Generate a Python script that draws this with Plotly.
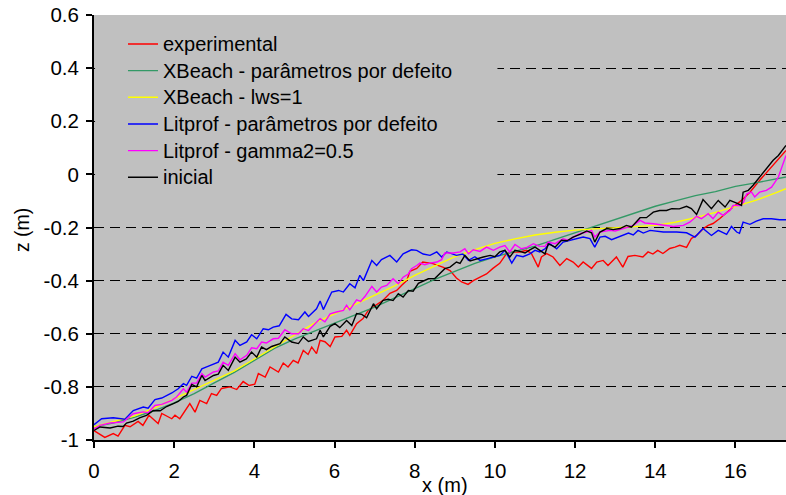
import plotly.graph_objects as go

# ---- profile data: x (m) along the flume, z (m) bed elevation ----
exp_x = [0, 0.27, 0.48, 0.6, 0.77, 0.9, 1.1, 1.22, 1.37, 1.6,
         1.69, 1.94, 2.02, 2.14, 2.39, 2.52, 2.64, 2.81, 2.93, 3.06,
         3.18, 3.39, 3.56, 3.72, 3.87, 4.01, 4.1, 4.27, 4.39, 4.6,
         4.72, 4.84, 4.97, 5.09, 5.22, 5.34, 5.43, 5.55, 5.64, 5.76,
         5.89, 6.01, 6.18, 6.3, 6.38, 6.55, 6.71, 6.84, 6.96, 7.21,
         7.38, 7.55, 7.67, 7.8, 7.88, 8.05, 8.2, 8.45, 8.7, 8.88,
         9.04, 9.17, 9.33, 9.46, 9.63, 9.79, 9.95, 10.12, 10.29, 10.45,
         10.62, 10.79, 10.91, 11.08, 11.16, 11.29, 11.45, 11.62, 11.79, 11.95,
         12.08, 12.2, 12.41, 12.54, 12.7, 12.82, 13.03, 13.19, 13.32, 13.49,
         13.69, 13.82, 13.94, 14.06, 14.19, 14.36, 14.49, 14.61, 14.78, 14.9,
         15.03, 15.2, 15.32, 15.44, 15.61, 15.78, 15.94, 16.15, 16.36, 16.6,
         16.86, 17.07, 17.26]
exp_z = [-0.965, -0.99, -0.976, -0.985, -0.945, -0.95, -0.93, -0.945, -0.907, -0.938,
         -0.9, -0.92, -0.907, -0.92, -0.863, -0.895, -0.851, -0.863, -0.825, -0.832,
         -0.806, -0.80, -0.81, -0.78, -0.795, -0.79, -0.75, -0.763, -0.725, -0.744,
         -0.71, -0.725, -0.70, -0.71, -0.663, -0.678, -0.65, -0.675, -0.625, -0.63,
         -0.648, -0.612, -0.61, -0.587, -0.606, -0.562, -0.543, -0.512, -0.50, -0.474,
         -0.448, -0.437, -0.418, -0.40, -0.365, -0.354, -0.33, -0.336, -0.349, -0.362,
         -0.39, -0.405, -0.414, -0.40, -0.387, -0.375, -0.354, -0.335, -0.298, -0.292,
         -0.292, -0.286, -0.298, -0.349, -0.311, -0.298, -0.311, -0.343, -0.317, -0.33,
         -0.349, -0.33, -0.354, -0.33, -0.324, -0.343, -0.311, -0.349, -0.309, -0.305,
         -0.311, -0.292, -0.30, -0.286, -0.298, -0.279, -0.274, -0.267, -0.275, -0.241,
         -0.23, -0.204, -0.192, -0.185, -0.166, -0.142, -0.123, -0.098, -0.067, -0.023,
         0.021, 0.059, 0.09]

smooth_x = [0, 0.5, 1, 1.5, 2, 2.5, 3, 3.5, 4, 4.5,
            5, 5.5, 6, 6.5, 7, 7.5, 8, 8.5, 9, 9.5,
            10, 10.5, 11, 11.5, 12, 12.5, 13, 13.5, 14, 14.5,
            15, 15.5, 16, 16.5, 17, 17.26]
xb_def_z = [-0.95, -0.935, -0.915, -0.89, -0.86, -0.825, -0.785, -0.745, -0.70, -0.655,
            -0.62, -0.59, -0.56, -0.53, -0.50, -0.465, -0.43, -0.395, -0.365, -0.335,
            -0.31, -0.29, -0.27, -0.245, -0.22, -0.195, -0.168, -0.145, -0.12, -0.10,
            -0.08, -0.065, -0.045, -0.032, -0.017, -0.01]
xb_lws_z = [-0.95, -0.93, -0.91, -0.88, -0.845, -0.81, -0.775, -0.74, -0.695, -0.65,
            -0.605, -0.56, -0.525, -0.49, -0.455, -0.42, -0.38, -0.345, -0.31, -0.283,
            -0.26, -0.243, -0.228, -0.218, -0.21, -0.205, -0.2, -0.197, -0.192, -0.18,
            -0.163, -0.143, -0.12, -0.098, -0.07, -0.054]

lp_def_x = [0, 0.19, 0.48, 0.77, 0.98, 1.23, 1.35, 1.52, 1.69, 1.94,
            2.1, 2.23, 2.31, 2.44, 2.56, 2.69, 2.81, 2.98, 3.1, 3.22,
            3.35, 3.52, 3.64, 3.81, 3.93, 4.06, 4.22, 4.35, 4.47, 4.62,
            4.79, 4.93, 5.1, 5.26, 5.35, 5.55, 5.64, 5.72, 5.93, 6.1,
            6.22, 6.38, 6.51, 6.63, 6.72, 6.93, 7.05, 7.17, 7.38, 7.55,
            7.71, 7.92, 8.05, 8.21, 8.38, 8.55, 8.67, 8.8, 9.04, 9.2,
            9.34, 9.5, 9.63, 9.79, 9.96, 10.12, 10.25, 10.42, 10.54, 10.7,
            10.87, 11.0, 11.12, 11.25, 11.37, 11.54, 11.7, 11.87, 12.04, 12.2,
            12.37, 12.49, 12.62, 12.75, 12.91, 13.12, 13.33, 13.45, 13.57, 13.7,
            13.87, 14.2, 14.53, 14.78, 14.99, 15.19, 15.4, 15.57, 15.78, 15.9,
            16.03, 16.1, 16.19, 16.36, 16.52, 16.69, 16.9, 17.1, 17.26]
lp_def_z = [-0.942, -0.92, -0.916, -0.922, -0.889, -0.876, -0.88, -0.848, -0.842, -0.823,
            -0.807, -0.788, -0.794, -0.76, -0.767, -0.732, -0.725, -0.713, -0.707, -0.669,
            -0.688, -0.625, -0.644, -0.631, -0.604, -0.619, -0.581, -0.585, -0.575, -0.57,
            -0.527, -0.544, -0.547, -0.518, -0.535, -0.506, -0.477, -0.509, -0.443, -0.437,
            -0.443, -0.412, -0.427, -0.38, -0.40, -0.324, -0.343, -0.321, -0.305, -0.33,
            -0.299, -0.284, -0.286, -0.30, -0.305, -0.292, -0.311, -0.292, -0.305, -0.30,
            -0.324, -0.31, -0.324, -0.318, -0.311, -0.305, -0.286, -0.334, -0.305, -0.31,
            -0.299, -0.286, -0.292, -0.28, -0.261, -0.28, -0.255, -0.248, -0.242, -0.236,
            -0.242, -0.274, -0.236, -0.233, -0.246, -0.233, -0.221, -0.228, -0.211, -0.221,
            -0.211, -0.217, -0.217, -0.22, -0.236, -0.204, -0.23, -0.211, -0.226, -0.196,
            -0.217, -0.222, -0.18, -0.188, -0.176, -0.167, -0.167, -0.171, -0.171]

lp_g2_x = [0, 0.15, 0.4, 0.73, 0.98, 1.23, 1.35, 1.52, 1.69, 1.94,
           2.06, 2.23, 2.31, 2.44, 2.56, 2.69, 2.77, 2.98, 3.1, 3.22,
           3.35, 3.52, 3.64, 3.81, 3.93, 4.06, 4.18, 4.3, 4.47, 4.6,
           4.76, 4.93, 5.1, 5.22, 5.35, 5.55, 5.64, 5.76, 5.89, 6.05,
           6.22, 6.3, 6.38, 6.55, 6.65, 6.76, 6.93, 7.05, 7.17, 7.3,
           7.46, 7.59, 7.71, 7.84, 7.92, 8.05, 8.13, 8.25, 8.38, 8.55,
           8.67, 8.75, 8.96, 9.13, 9.25, 9.34, 9.46, 9.63, 9.79, 9.96,
           10.12, 10.25, 10.37, 10.5, 10.66, 10.8, 10.96, 11.1, 11.25, 11.33,
           11.5, 11.7, 11.82, 11.95, 12.12, 12.29, 12.41, 12.49, 12.62, 12.87,
           13.0, 13.2, 13.45, 13.62, 13.74, 13.95, 14.2, 14.45, 14.7, 14.86,
           15.03, 15.15, 15.32, 15.44, 15.57, 15.69, 15.86, 15.94, 16.11, 16.2,
           16.28, 16.4, 16.48, 16.6, 16.77, 16.9, 17.07, 17.15, 17.26]
lp_g2_z = [-0.958, -0.945, -0.936, -0.932, -0.901, -0.894, -0.897, -0.87, -0.866, -0.851,
           -0.838, -0.807, -0.82, -0.786, -0.786, -0.75, -0.763, -0.744, -0.74, -0.707,
           -0.719, -0.675, -0.698, -0.681, -0.653, -0.656, -0.631, -0.635, -0.619, -0.617,
           -0.585, -0.60, -0.60, -0.581, -0.588, -0.556, -0.543, -0.555, -0.525, -0.518,
           -0.512, -0.493, -0.51, -0.472, -0.478, -0.459, -0.422, -0.443, -0.424, -0.418,
           -0.393, -0.412, -0.387, -0.375, -0.355, -0.343, -0.334, -0.34, -0.334, -0.33,
           -0.321, -0.296, -0.296, -0.292, -0.28, -0.299, -0.284, -0.29, -0.274, -0.286,
           -0.274, -0.268, -0.292, -0.264, -0.28, -0.275, -0.261, -0.27, -0.271, -0.255,
           -0.261, -0.242, -0.248, -0.236, -0.223, -0.217, -0.211, -0.236, -0.217, -0.211,
           -0.213, -0.204, -0.192, -0.173, -0.183, -0.186, -0.192, -0.196, -0.192, -0.18,
           -0.158, -0.167, -0.148, -0.167, -0.142, -0.154, -0.136, -0.117, -0.117, -0.105,
           -0.073, -0.067, -0.085, -0.067, -0.06, -0.048, -0.01, 0.021, 0.071]

ini_x = [0, 0.15, 0.4, 0.6, 0.73, 0.81, 0.98, 1.15, 1.31, 1.48,
         1.65, 1.81, 1.98, 2.1, 2.23, 2.31, 2.44, 2.56, 2.69, 2.77,
         2.98, 3.1, 3.22, 3.35, 3.52, 3.64, 3.8, 3.93, 4.06, 4.18,
         4.3, 4.43, 4.64, 4.76, 4.93, 5.1, 5.22, 5.35, 5.55, 5.64,
         5.72, 5.89, 6.01, 6.13, 6.3, 6.43, 6.55, 6.68, 6.8, 6.97,
         7.05, 7.21, 7.34, 7.46, 7.59, 7.71, 7.84, 7.96, 8.09, 8.22,
         8.34, 8.5, 8.63, 8.75, 8.88, 9.04, 9.13, 9.25, 9.38, 9.54,
         9.71, 9.88, 10.0, 10.12, 10.25, 10.37, 10.5, 10.62, 10.75, 10.87,
         11.0, 11.12, 11.25, 11.33, 11.5, 11.66, 11.8, 11.95, 12.12, 12.29,
         12.41, 12.49, 12.62, 12.79, 12.95, 13.12, 13.28, 13.41, 13.62, 13.78,
         13.95, 14.11, 14.28, 14.41, 14.6, 14.78, 14.9, 15.03, 15.19, 15.4,
         15.57, 15.74, 15.86, 16.03, 16.15, 16.19, 16.32, 16.44, 16.6, 16.77,
         16.94, 17.07, 17.2, 17.26]
ini_z = [-0.964, -0.951, -0.955, -0.948, -0.949, -0.936, -0.929, -0.916, -0.907, -0.889,
         -0.89, -0.874, -0.863, -0.855, -0.838, -0.832, -0.791, -0.80, -0.757, -0.776,
         -0.757, -0.752, -0.719, -0.738, -0.688, -0.707, -0.695, -0.669, -0.688, -0.65,
         -0.66, -0.648, -0.637, -0.612, -0.631, -0.637, -0.612, -0.629, -0.619, -0.587,
         -0.612, -0.572, -0.562, -0.577, -0.55, -0.569, -0.524, -0.527, -0.54, -0.487,
         -0.506, -0.474, -0.47, -0.475, -0.449, -0.462, -0.437, -0.44, -0.41, -0.40,
         -0.393, -0.392, -0.371, -0.355, -0.349, -0.33, -0.335, -0.305, -0.326, -0.318,
         -0.311, -0.305, -0.31, -0.292, -0.286, -0.311, -0.286, -0.29, -0.296, -0.284,
         -0.274, -0.286, -0.299, -0.261, -0.274, -0.248, -0.25, -0.236, -0.226, -0.213,
         -0.22, -0.255, -0.217, -0.204, -0.208, -0.204, -0.192, -0.198, -0.163, -0.163,
         -0.142, -0.136, -0.136, -0.129, -0.13, -0.12, -0.129, -0.151, -0.095, -0.129,
         -0.098, -0.123, -0.098, -0.108, -0.117, -0.067, -0.06, -0.041, -0.01, 0.021,
         0.053, 0.071, 0.097, 0.109]

series_names = ["experimental",
                "XBeach - parâmetros por defeito",
                "XBeach - lws=1",
                "Litprof - parâmetros por defeito",
                "Litprof - gamma2=0.5",
                "inicial"]
series_colors = ["#FF0000", "#339966", "#FFFF00", "#0000FF", "#FF00FF", "#000000"]

y_ticks = [0.6, 0.4, 0.2, 0, -0.2, -0.4, -0.6, -0.8, -1]
y_tick_text = ["0.6", "0.4", "0.2", "0", "-0.2", "-0.4", "-0.6", "-0.8", "-1"]
x_ticks = [0, 2, 4, 6, 8, 10, 12, 14, 16]

profiles = [(exp_x, exp_z), (smooth_x, xb_def_z), (smooth_x, xb_lws_z),
            (lp_def_x, lp_def_z), (lp_g2_x, lp_g2_z), (ini_x, ini_z)]
for xs, zs in profiles:
    assert len(xs) == len(zs)

FONT = "Liberation Sans, Arial, sans-serif"
GRAY = "#C0C0C0"
LEGEND_TEXT_PX = 20

fig = go.Figure()
for (xs, zs), name, color in zip(profiles, series_names, series_colors):
    label = f'<span style="font-size:{LEGEND_TEXT_PX}px">{name}</span>'
    fig.add_trace(go.Scatter(x=xs, y=zs, mode="lines", name=label,
                             line=dict(color=color, width=1.4)))

fig.update_layout(
    width=786, height=495,
    margin=dict(l=94, r=0, t=15, b=55),
    paper_bgcolor="white",
    plot_bgcolor=GRAY,
    font=dict(family=FONT, size=20, color="black"),
    showlegend=True,
    legend=dict(x=0.0419, y=0.975, xanchor="left", yanchor="top",
                bgcolor="rgba(0,0,0,0)", borderwidth=0,
                font=dict(family=FONT, size=18.2, color="black"),
                itemwidth=30, traceorder="normal"),
    xaxis=dict(range=[0, 17.26], tickvals=x_ticks, ticks="outside", ticklen=6,
               tickwidth=1.5, tickcolor="black", showline=True, linecolor="black",
               linewidth=2, showgrid=False, zeroline=False, ticklabelstandoff=5,
               tickfont=dict(family=FONT, size=20.5)),
    yaxis=dict(range=[-1, 0.6], tickvals=y_ticks, ticktext=y_tick_text,
               ticks="outside", ticklen=6, tickwidth=1.5, tickcolor="black",
               showline=True, linecolor="black", linewidth=2, ticklabelstandoff=3,
               showgrid=True, gridcolor="black", gridwidth=1, griddash="10px,6px",
               zeroline=False, tickfont=dict(family=FONT, size=20.5)),
    shapes=[dict(type="rect", xref="paper", yref="paper",
                 x0=0.0015, x1=0.583, y0=0.574, y1=0.977,
                 fillcolor=GRAY, line=dict(width=0), layer="above")],
    annotations=[
        dict(text="z (m)", xref="paper", yref="paper", x=-0.104, y=0.494,
             xanchor="center", yanchor="middle",
             showarrow=False, textangle=-90, font=dict(family=FONT, size=19.5)),
        dict(text="x (m)", xref="paper", yref="paper", x=0.507, y=-0.106,
             xanchor="center", yanchor="middle",
             showarrow=False, font=dict(family=FONT, size=20)),
    ],
)

fig.write_html("out.html")
